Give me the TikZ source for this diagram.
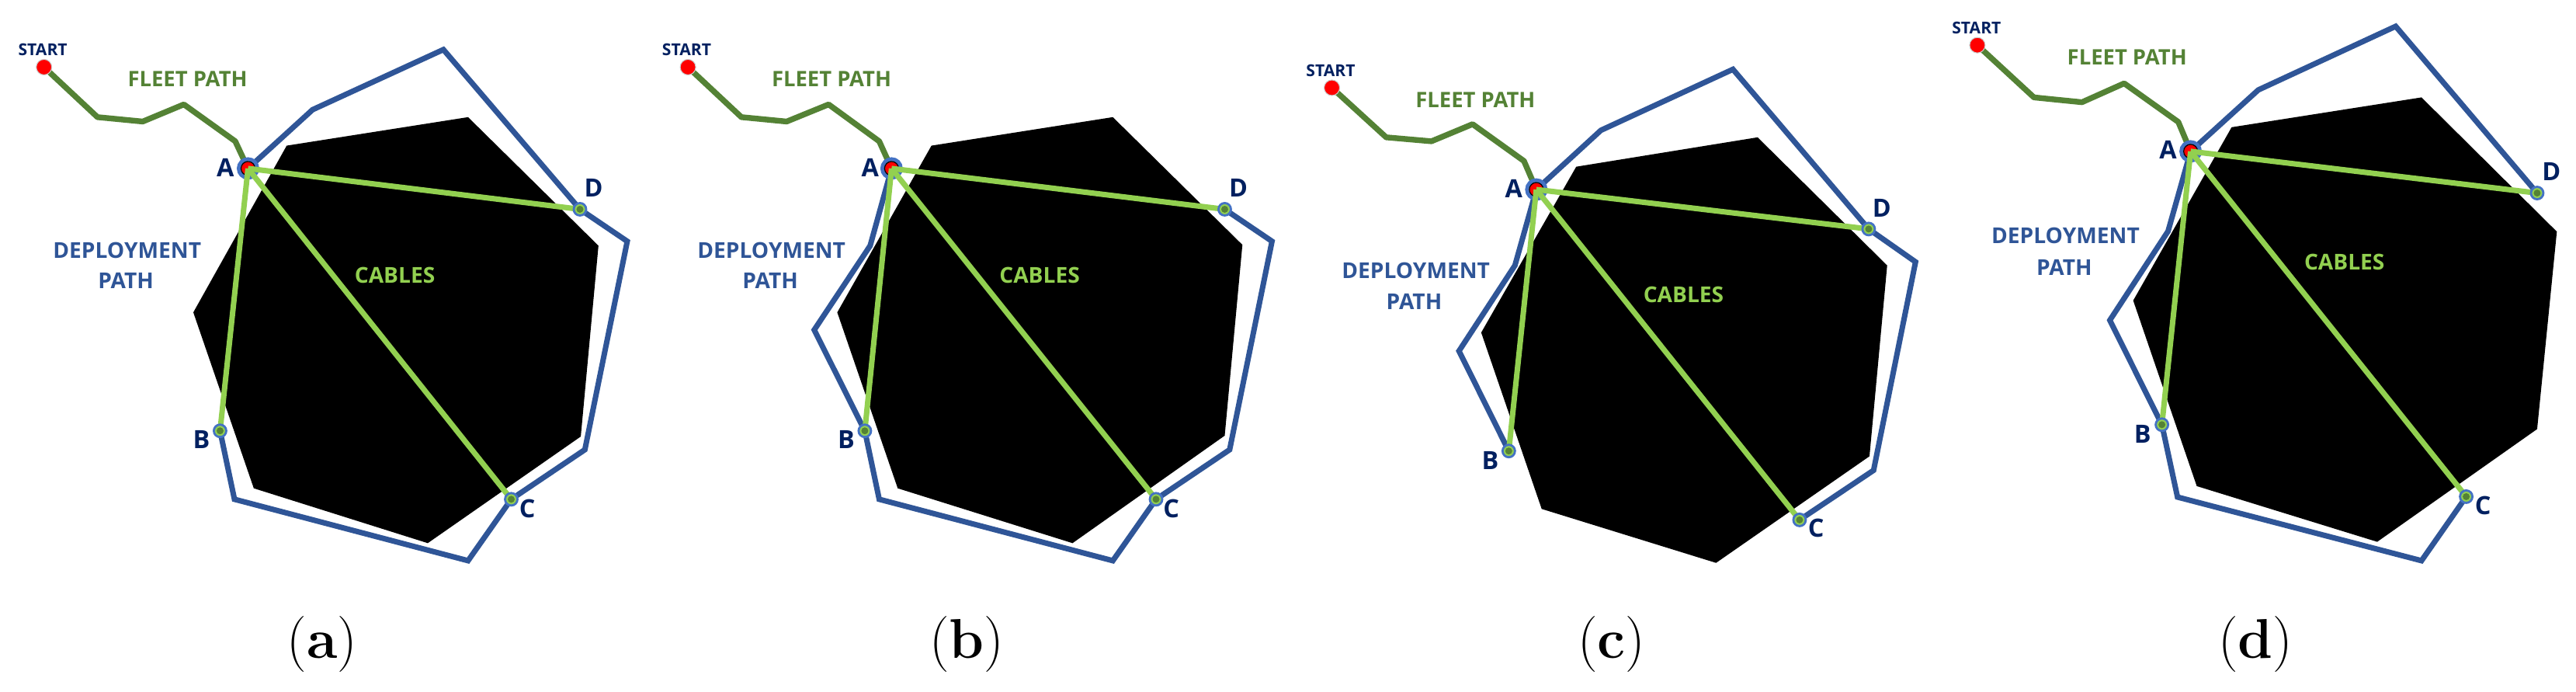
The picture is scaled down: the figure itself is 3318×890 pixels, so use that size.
\documentclass[tikz,border=0pt]{standalone}
\usepackage{fontspec}
\newfontfamily\lab{Open Sans}
\definecolor{pathblue}{HTML}{2F5597}
\definecolor{ringblue}{HTML}{4472C4}
\definecolor{fleetgreen}{HTML}{548235}
\definecolor{cablegreen}{HTML}{92D050}
\definecolor{navy}{HTML}{002060}
\tikzset{
 deploy/.style={draw=pathblue, line width=2pt},
 fleet/.style={draw=fleetgreen, line width=2.1pt, line join=round},
 cable/.style={draw=cablegreen, line width=2pt},
 obstacle/.style={fill=black},
 startdot/.style={circle, fill=red, draw=gray!40, line width=0.3pt, minimum size=0.2cm, inner sep=0pt},
 aring/.style={draw=ringblue, line width=1.4pt},
 adot/.style={circle, fill=red, draw=black, line width=0.35pt, minimum size=0.18cm, inner sep=0pt},
 endmark/.style={circle, draw=ringblue, line width=0.8pt, fill=cablegreen, minimum size=0.16cm, inner sep=0pt,
   path picture={\fill[fleetgreen] (path picture bounding box.center) circle (0.045cm);}},
 letter/.style={font=\lab\bfseries\fontsize{9.2}{11}\selectfont, text=navy, anchor=base, inner sep=0pt},
 starttxt/.style={font=\lab\bfseries\fontsize{6}{7}\selectfont, text=navy, anchor=base, inner sep=0pt},
 fleettxt/.style={font=\lab\bfseries\fontsize{7.8}{9}\selectfont, text=fleetgreen, anchor=base, inner sep=0pt},
 deploytxt/.style={font=\lab\bfseries\fontsize{8}{9}\selectfont, text=pathblue, anchor=base, inner sep=0pt},
 cabletxt/.style={font=\lab\bfseries\fontsize{8}{9}\selectfont, text=cablegreen, anchor=base, inner sep=0pt},
 caption/.style={font=\fontsize{20.5}{24}\selectfont, anchor=base, inner sep=0pt},
 panel/.style={x=0.005294cm, y=-0.00565cm},
}
\begin{document}
\begin{tikzpicture}[x=0.01cm,y=-0.01cm]
\useasboundingbox[fill=white] (0,0) rectangle (3318,890);

% ---------------- (a) ----------------
\begin{scope}[panel]
\fill[obstacle] (697,332) -- (1138,267) -- (1455,560) -- (1412,995) -- (1040,1238) -- (617,1113) -- (470,712) -- cycle;
\coordinate (aA) at (603,384);
\coordinate (aB) at (535,982);
\coordinate (aC) at (1243,1138);
\coordinate (aD) at (1410,477);
\coordinate (aS) at (107,153);
\draw[deploy] (aA) -- (760,250) -- (1078,113) -- (aD) -- (1525,550) -- (1422,1025) -- (aC) -- (1138,1278) -- (570,1138) -- (aB);
\draw[fleet] (aS) -- (237,267) -- (347,277) -- (447,238) -- (572,322) -- (aA);
\draw[aring] (aA) circle (0.12cm);
\node[adot] (aAn) at (aA) {};
\draw[cable] (aAn.center) -- (aD);
\draw[cable] (aAn.center) -- (aC);
\draw[cable] (aAn.center) -- (aB);
\node[endmark] (aBn) at (aB) {};
\node[endmark] (aCn) at (aC) {};
\node[endmark] (aDn) at (aD) {};
\node[startdot] (aSn) at (aS) {};
\node[starttxt] (aSt) at (104,127) {START};
\node[fleettxt] (aFt) at (456,198) {FLEET PATH};
\node[letter] (aAt) at (548,402) {A};
\node[letter] (aBt) at (490,1023) {B};
\node[letter] (aCt) at (1282,1180) {C};
\node[letter] (aDt) at (1443,448) {D};
\node[deploytxt] (aDp1) at (309,588) {DEPLOYMENT};
\node[deploytxt] (aDp2) at (306,658) {PATH};
\node[cabletxt] (aCb) at (960,645) {CABLES};
\node[caption] (aCap) at (783,1501) {(\textbf{a})};
\end{scope}

% ---------------- (b) ----------------
\begin{scope}[xshift=8.3cm, panel]
\fill[obstacle] (697,332) -- (1138,267) -- (1453,558) -- (1410,993) -- (1040,1238) -- (615,1113) -- (468,712) -- cycle;
\coordinate (bA) at (600,384);
\coordinate (bB) at (535,982);
\coordinate (bC) at (1243,1138);
\coordinate (bD) at (1410,477);
\coordinate (bS) at (105,153);
\draw[deploy] (bA) -- (548,560) -- (412,752) -- (bB) -- (570,1138) -- (1138,1278) -- (bC) -- (1422,1025) -- (1525,550) -- (bD);
\draw[fleet] (bS) -- (235,267) -- (345,277) -- (447,238) -- (570,322) -- (bA);
\draw[aring] (bA) circle (0.12cm);
\node[adot] (bAn) at (bA) {};
\draw[cable] (bAn.center) -- (bD);
\draw[cable] (bAn.center) -- (bC);
\draw[cable] (bAn.center) -- (bB);
\node[endmark] (bBn) at (bB) {};
\node[endmark] (bCn) at (bC) {};
\node[endmark] (bDn) at (bD) {};
\node[startdot] (bSn) at (bS) {};
\node[starttxt] (bSt) at (102,127) {START};
\node[fleettxt] (bFt) at (454,198) {FLEET PATH};
\node[letter] (bAt) at (548,402) {A};
\node[letter] (bBt) at (490,1023) {B};
\node[letter] (bCt) at (1280,1180) {C};
\node[letter] (bDt) at (1443,448) {D};
\node[deploytxt] (bDp1) at (308,588) {DEPLOYMENT};
\node[deploytxt] (bDp2) at (305,658) {PATH};
\node[cabletxt] (bCb) at (960,645) {CABLES};
\node[caption] (bCap) at (783,1501) {(\textbf{b})};
\end{scope}

% ---------------- (c) ----------------
\begin{scope}[xshift=16.6cm, panel]
\fill[obstacle] (697,380) -- (1138,313) -- (1453,605) -- (1410,1040) -- (1037,1283) -- (613,1160) -- (466,758) -- cycle;
\coordinate (cA) at (600,432);
\coordinate (cB) at (533,1028);
\coordinate (cC) at (1240,1185);
\coordinate (cD) at (1408,522);
\coordinate (cS) at (103,200);
\draw[deploy] (cA) -- (548,605) -- (412,800) -- (cB);
\draw[deploy] (cA) -- (757,297) -- (1078,158) -- (cD) -- (1522,597) -- (1420,1072) -- (cC);
\draw[fleet] (cS) -- (235,313) -- (345,322) -- (445,283) -- (570,367) -- (cA);
\draw[aring] (cA) circle (0.12cm);
\node[adot] (cAn) at (cA) {};
\draw[cable] (cAn.center) -- (cD);
\draw[cable] (cAn.center) -- (cC);
\draw[cable] (cAn.center) -- (cB);
\node[endmark] (cBn) at (cB) {};
\node[endmark] (cCn) at (cC) {};
\node[endmark] (cDn) at (cD) {};
\node[startdot] (cSn) at (cS) {};
\node[starttxt] (cSt) at (100,174) {START};
\node[fleettxt] (cFt) at (452,245) {FLEET PATH};
\node[letter] (cAt) at (545,450) {A};
\node[letter] (cBt) at (488,1070) {B};
\node[letter] (cCt) at (1280,1225) {C};
\node[letter] (cDt) at (1440,495) {D};
\node[deploytxt] (cDp1) at (307,635) {DEPLOYMENT};
\node[deploytxt] (cDp2) at (303,705) {PATH};
\node[cabletxt] (cCb) at (958,690) {CABLES};
\node[caption] (cCap) at (783,1501) {(\textbf{c})};
\end{scope}

% ---------------- (d) ----------------
\begin{scope}[xshift=24.9cm, panel, x=0.00528cm]
\fill[obstacle] (725,290) -- (1188,222) -- (1518,528) -- (1470,978) -- (1080,1235) -- (640,1108) -- (485,685) -- cycle;
\coordinate (dA) at (625,345);
\coordinate (dB) at (555,968);
\coordinate (dC) at (1297,1132);
\coordinate (dD) at (1470,440);
\coordinate (dS) at (105,103);
\draw[deploy] (dA) -- (570,527) -- (428,730) -- (dB) -- (593,1133) -- (1188,1278) -- (dC);
\draw[deploy] (dA) -- (790,205) -- (1125,60) -- (dD);
\draw[fleet] (dS) -- (243,222) -- (360,233) -- (463,190) -- (595,278) -- (dA);
\draw[aring] (dA) circle (0.12cm);
\node[adot] (dAn) at (dA) {};
\draw[cable] (dAn.center) -- (dD);
\draw[cable] (dAn.center) -- (dC);
\draw[cable] (dAn.center) -- (dB);
\node[endmark] (dBn) at (dB) {};
\node[endmark] (dCn) at (dC) {};
\node[endmark] (dDn) at (dD) {};
\node[startdot] (dSn) at (dS) {};
\node[starttxt] (dSt) at (103,77) {START};
\node[fleettxt] (dFt) at (470,148) {FLEET PATH};
\node[letter] (dAt) at (570,362) {A};
\node[letter] (dBt) at (508,1010) {B};
\node[letter] (dCt) at (1338,1172) {C};
\node[letter] (dDt) at (1505,412) {D};
\node[deploytxt] (dDp1) at (320,555) {DEPLOYMENT};
\node[deploytxt] (dDp2) at (317,627) {PATH};
\node[cabletxt] (dCb) at (1000,615) {CABLES};
\node[caption] (dCap) at (783,1501) {(\textbf{d})};
\end{scope}
\end{tikzpicture}
\end{document}
